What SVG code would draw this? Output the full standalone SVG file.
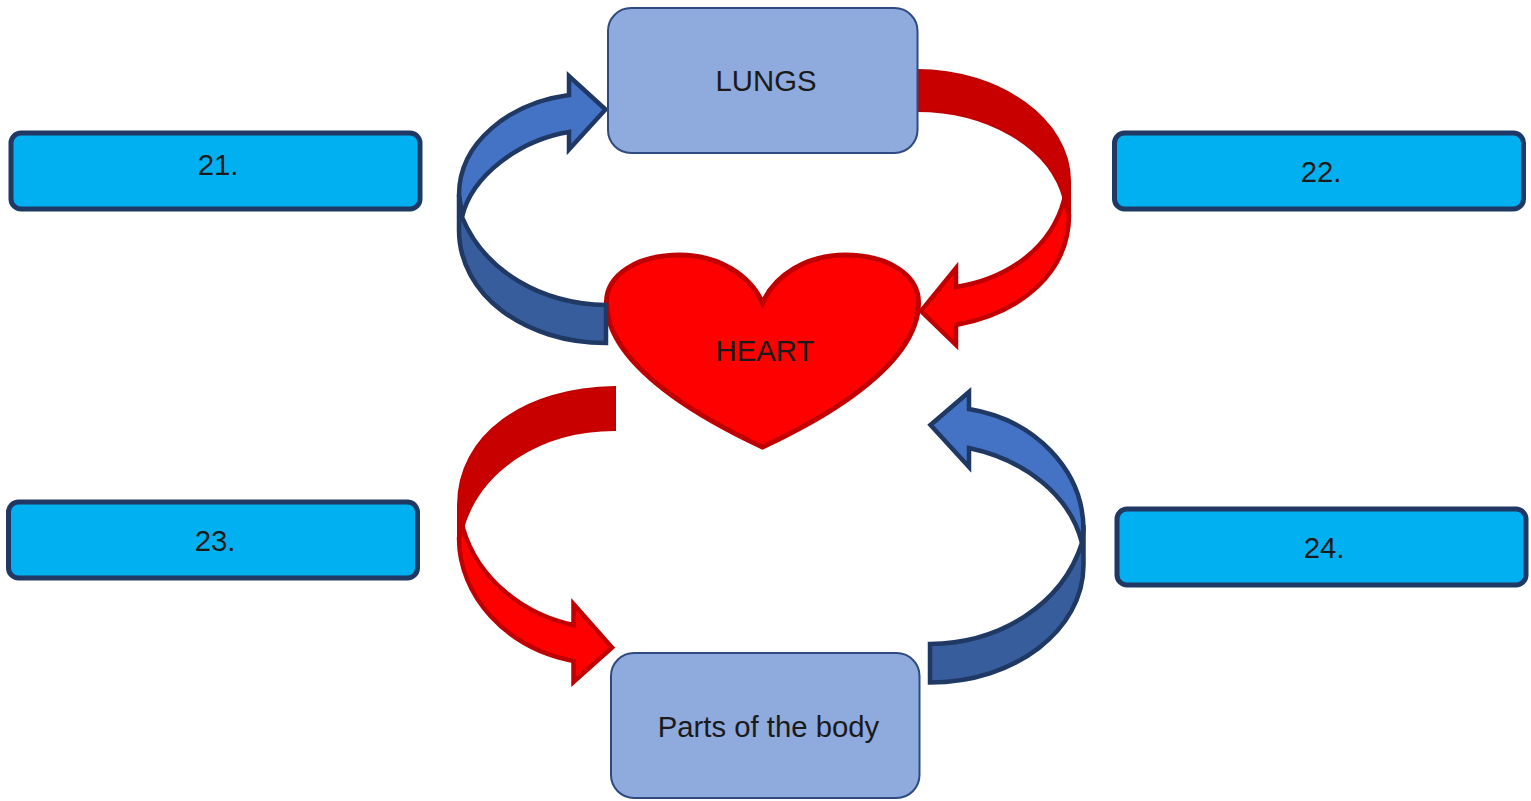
<svg xmlns="http://www.w3.org/2000/svg" width="1531" height="801" viewBox="0 0 1531 801">
<style>
text{font-family:"Liberation Sans",Arial,sans-serif;font-size:29.300px;fill:#1a1a1a;text-anchor:middle}
.box{fill:#8FAADC;stroke:#2F4A80;stroke-width:2}
.lab{fill:#00B0F0;stroke:#1F3864;stroke-width:5}
.bl{fill:#4472C4;stroke:#1F3864;stroke-width:4.500;stroke-linejoin:miter}
.bd{fill:#385D9C;stroke:#1F3864;stroke-width:4.500;stroke-linejoin:miter}
.rl{fill:#FF0000;stroke:#C00000;stroke-width:4.500;stroke-linejoin:miter}
.rd{fill:#C80000;stroke:#C00000;stroke-width:2;stroke-linejoin:miter}
</style>
<rect width="1531" height="801" fill="#fff"/>
<g id="heart">
<path d="M762.500 447C735 434 607 375 606.500 303C606 275 637 255 680 255C718 255 750 275 762.500 303C775 275 807 255 845 255C888 255 919 275 918.500 303C918 375 790 434 762.500 447Z" fill="#FF0000" stroke="#C00000" stroke-width="5"/>
<text x="765" y="360.500">HEART</text>
</g>
<g id="connectors">
<path class="bl" d="M459 195C459 142 510 103 569 95V76L605.500 109.500L569 149.500V132C520 140 472 175 462 217Z"/>
<path class="bd" d="M606 305C542 304 485 272 462 217L459 195V230C459 295 525 343 606 343Z"/>
<path class="rd" d="M917 111C985 111 1050 145 1064 200L1070 222V181C1070 120 1000 70 917 70Z"/>
<path class="rl" d="M1069 215C1069 270 1025 312 956 325V345L921 311L956 268V287C1012 278 1052 245 1064 200Z"/>
<path class="rd" d="M615 430C540 430 480 470 463 528L458 545V505C458 435 525 388 615 387Z"/>
<path class="rl" d="M459 538C459 595 505 648 573.500 661V682L612 647.500L573.500 604V625C525 615 478 580 463 528Z"/>
<path class="bl" d="M1083.500 530C1083.500 470 1035 420 969 409V392L930.500 425L969 467V448C1025 460 1070 495 1082 543Z"/>
<path class="bd" d="M930 644C1000 643 1062 605 1082 543L1083.500 525V565C1083.500 630 1015 682.500 930 682.500Z"/>
</g>
<g id="lungs">
<rect class="box" x="608" y="8" width="309.500" height="145" rx="23"/>
<text x="766" y="91">LUNGS</text>
</g>
<g id="parts">
<rect class="box" x="611" y="653" width="308.500" height="145" rx="23"/>
<text x="768.500" y="737">Parts of the body</text>
</g>
<g id="label21">
<rect class="lab" x="11" y="133" width="409" height="76" rx="10"/>
<text x="218" y="175">21.</text>
</g>
<g id="label22">
<rect class="lab" x="1114.500" y="133" width="409" height="76" rx="10"/>
<text x="1321" y="182">22.</text>
</g>
<g id="label23">
<rect class="lab" x="8.500" y="502" width="409" height="76" rx="10"/>
<text x="215" y="551">23.</text>
</g>
<g id="label24">
<rect class="lab" x="1117" y="509" width="409" height="76" rx="10"/>
<text x="1324" y="558">24.</text>
</g>
</svg>
